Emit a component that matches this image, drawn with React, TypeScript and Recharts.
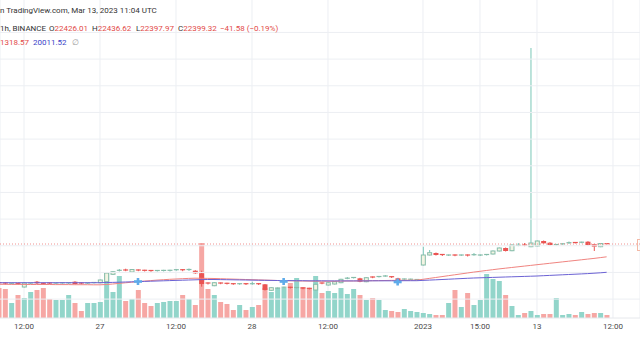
import React from 'react';
import { ComposedChart, Bar, Line, Scatter, XAxis, YAxis, CartesianGrid, ReferenceLine, Cell } from 'recharts';

// BTC 1h candles, first visible bar is index -4 (index 0 = the "12:00" tick)
const OPEN = [
    19134, 19109, 19050, 19084, 18771, 19067, 19218, 19084, 19109, 19050,
    19084, 19084, 19218, 19109, 19067, 19109, 19134, 19218, 19843, 20121,
    20206, 20037, 20206, 20181, 20164, 20121, 20121, 20121, 20181, 20231,
    20164, 20147, 19927, 19109, 18881, 19109, 19084, 19050, 18999, 19050,
    18999, 19050, 18999, 18493, 18645, 18712, 18746, 18687, 18687, 18662,
    18518, 19109, 18940, 19024, 19134, 19472, 19531, 19506, 19218, 19615,
    19615, 19674, 19640, 19506, 19404, 19404, 19362, 20627, 21471, 21640,
    21514, 21429, 21471, 21429, 21471, 21454, 21429, 21471, 21556, 21809,
    22062, 21834, 22256, 22315, 22172, 22231, 22652, 22509, 22315, 22374,
    22467, 22526, 22509, 22593, 22374, 22172, 22426.01,
];
const HIGH = [
    19193, 19151, 19151, 19109, 19151, 19151, 19277, 19125, 19151, 19151,
    19168, 19168, 19260, 19151, 19151, 19193, 19404, 19994, 20121, 20290,
    20315, 20290, 20248, 20223, 20206, 20206, 20223, 20223, 20273, 20273,
    20332, 20189, 20147, 19151, 19176, 19151, 19125, 19092, 19092, 19092,
    19218, 19092, 19024, 18754, 18729, 18797, 18788, 18771, 18729, 18704,
    19041, 19151, 19176, 19260, 19463, 19615, 19615, 19548, 19598, 19657,
    19699, 19784, 19682, 19548, 19489, 19472, 19446, 22172, 21893, 21682,
    21556, 21514, 21514, 21514, 21514, 21640, 21514, 21556, 21851, 22104,
    22104, 22357, 22484, 22484, 38937, 22695, 22695, 22551, 22399, 22458,
    22610, 22568, 22593, 22635, 22416, 22452, 22436.62,
];
const LOW = [
    19024, 18982, 19007, 18940, 18729, 19024, 19024, 18982, 19007, 19024,
    19041, 19024, 18982, 19007, 19024, 19067, 19092, 19176, 19784, 20079,
    20104, 19995, 20104, 20079, 20062, 20079, 20079, 20079, 20138, 20104,
    20121, 19885, 18797, 18982, 18839, 19007, 18982, 18957, 18957, 18940,
    18957, 18940, 18476, 18451, 18602, 18670, 18645, 18645, 18585, 18560,
    18476, 19007, 18898, 18982, 19092, 19429, 19489, 19176, 19176, 19514,
    19573, 19632, 19531, 19235, 19362, 19362, 19320, 20585, 21429, 21429,
    21387, 21387, 21370, 21387, 21345, 21412, 21387, 21429, 21514, 21767,
    21767, 21792, 22214, 22214, 22130, 22189, 22416, 22273, 22273, 22332,
    22399, 22441, 22467, 22273, 21809, 22130, 22397.97,
];
const CLOSE = [
    19067, 19024, 19092, 18999, 19109, 19109, 19084, 19024, 19050, 19109,
    19125, 19125, 19024, 19050, 19109, 19151, 19362, 19952, 20062, 20181,
    20147, 20248, 20147, 20121, 20104, 20164, 20172, 20181, 20231, 20147,
    20248, 19927, 19024, 19024, 19134, 19050, 19024, 18999, 19050, 18982,
    19050, 18982, 18518, 18712, 18687, 18754, 18687, 18729, 18628, 18602,
    18999, 19050, 19134, 19218, 19421, 19514, 19573, 19218, 19556, 19556,
    19657, 19699, 19573, 19303, 19446, 19429, 19404, 21471, 21665, 21471,
    21429, 21471, 21412, 21471, 21387, 21497, 21471, 21514, 21809, 22062,
    21809, 22315, 22290, 22256, 22484, 22652, 22458, 22315, 22357, 22416,
    22509, 22484, 22551, 22315, 22172, 22440.9, 22399.32,
];
const VOLUME = [
    1200, 1160, 600, 920, 800, 1040, 1120, 1200, 760, 720,
    720, 920, 600, 280, 600, 600, 640, 1800, 1040, 1680,
    680, 760, 1120, 600, 480, 600, 640, 680, 680, 920,
    760, 520, 3000, 1160, 920, 640, 560, 320, 520, 320,
    440, 520, 1200, 1040, 1200, 1200, 1400, 1600, 1240, 1200,
    1680, 1000, 1080, 1000, 1200, 960, 1160, 920, 720, 800,
    720, 320, 280, 240, 360, 280, 240, 200, 160, 120,
    120, 600, 1120, 440, 1000, 520, 720, 1760, 1560, 1480,
    920, 480, 120, 200, 280, 120, 160, 160, 800, 120,
    160, 120, 240, 160, 200, 200, 120,
];
const MA_RED = [
    18999, 18999, 18990, 18990, 18990, 18982, 18982, 18982, 18982, 18974,
    18974, 18974, 18965, 18965, 18965, 18957, 18957, 18982, 19024, 19075,
    19125, 19176, 19226, 19269, 19311, 19354, 19387, 19421, 19446, 19472,
    19497, 19514, 19506, 19497, 19489, 19472, 19455, 19438, 19421, 19404,
    19387, 19370, 19354, 19337, 19320, 19303, 19294, 19286, 19277, 19269,
    19260, 19260, 19260, 19260, 19269, 19277, 19277, 19286, 19294, 19303,
    19311, 19320, 19328, 19328, 19337, 19345, 19354, 19421, 19497, 19573,
    19648, 19725, 19800, 19876, 19952, 20029, 20096, 20164, 20231, 20298,
    20357, 20417, 20475, 20535, 20593, 20653, 20712, 20771, 20830, 20889,
    20948, 21007, 21066, 21126, 21184, 21251, 21318.57,
];
const MA_BLUE = [
    19134, 19134, 19134, 19134, 19134, 19134, 19134, 19134, 19134, 19134,
    19134, 19134, 19134, 19134, 19134, 19134, 19134, 19151, 19160, 19176,
    19193, 19209, 19226, 19243, 19260, 19277, 19294, 19311, 19328, 19345,
    19362, 19378, 19395, 19404, 19404, 19395, 19387, 19378, 19370, 19362,
    19354, 19345, 19337, 19328, 19320, 19311, 19311, 19303, 19303, 19294,
    19294, 19294, 19286, 19286, 19286, 19286, 19286, 19286, 19286, 19294,
    19294, 19294, 19294, 19294, 19303, 19303, 19303, 19328, 19354, 19378,
    19404, 19429, 19455, 19480, 19506, 19531, 19548, 19564, 19581, 19598,
    19615, 19632, 19648, 19665, 19682, 19699, 19725, 19750, 19775, 19800,
    19826, 19851, 19876, 19902, 19935, 19969, 20011.52,
];
const FIRST_INDEX = -4;

// light blue "+" markers sitting on the averages
const MARKER_INDEX = [18, 41, 59];
const MARKER_PRICE = [19235, 19235, 19193];

const TIME_TICKS = [0, 12, 24, 36, 48, 63, 72, 81, 93];
const TIME_LABELS = ['12:00', '27', '12:00', '28', '12:00', '2023', '15:00', '13', '12:00'];
const GRID_PRICES = [17750, 20000, 22250, 24500, 26750, 29000, 31250, 33500, 35750, 38000, 40250];

const PX_PER_BAR = 6.333;
const X_DOMAIN: [number, number] = [-24 / PX_PER_BAR, (640 - 24) / PX_PER_BAR];
const PRICE_DOMAIN: [number, number] = [16156, 42987];
const VOL_DOMAIN: [number, number] = [0, 12720];

const UP = '#86bca9';
const UP_FILL = '#f3f4e3';
const DOWN = '#ea5452';
const VOL_UP = '#92d5ca';
const VOL_DOWN = '#f6a7a4';
const GRID = '#eceff3';

const data = OPEN.map((open, k) => ({
    i: k + FIRST_INDEX,
    open,
    high: HIGH[k],
    low: LOW[k],
    close: CLOSE[k],
    volume: VOLUME[k],
    maRed: MA_RED[k],
    maBlue: MA_BLUE[k],
}));

const markers = MARKER_INDEX.map((i, k) => ({ i, price: MARKER_PRICE[k] }));

const Candle = (props: any) => {
    const { x, y, width, height, payload } = props;
    if (!payload || x == null) return null;
    const top = Math.min(y, y + height);
    const bottom = Math.max(y, y + height);
    const { open, close, high, low } = payload;
    const span = high - low || 1;
    const toY = (v: number) => top + ((high - v) / span) * (bottom - top);
    const up = close >= open;
    const yo = toY(open);
    const yc = toY(close);
    const bodyTop = Math.min(yo, yc);
    const bodyH = Math.abs(yo - yc);
    const cx = x + width / 2;
    const color = up ? UP : DOWN;
    return (
        <g>
            <line x1={cx} x2={cx} y1={top} y2={bottom} stroke={up ? '#79c7b8' : DOWN} strokeWidth={1} />
            {up && bodyH >= 2 ? (
                <rect x={x + 0.5} y={bodyTop} width={width - 1} height={bodyH} fill={UP_FILL} stroke={color} strokeWidth={1} />
            ) : (
                <rect x={x} y={bodyTop - (bodyH < 1.2 ? 0.6 : 0)} width={width} height={Math.max(bodyH, 1.2)} fill={color} />
            )}
        </g>
    );
};

const Marker = (props: any) => {
    const { cx, cy } = props;
    if (cx == null) return null;
    return (
        <g fill="#5eabea">
            <rect x={cx - 4} y={cy - 1.3} width={8} height={2.6} />
            <rect x={cx - 1.3} y={cy - 3.5} width={2.6} height={7} />
        </g>
    );
};

const Txt = ({ left, top, color, children }: any) => (
    <div style={{ position: 'absolute', left, top, fontSize: 8, lineHeight: '10px', color, whiteSpace: 'nowrap' }}>
        {children}
    </div>
);

export default function App() {
    const last = data[data.length - 1];
    const prev = data[data.length - 2];
    const change = last.close - prev.close;
    const pct = (change / prev.close) * 100;
    const ohlc = [
        { left: 49, label: 'O', value: last.open },
        { left: 92, label: 'H', value: last.high },
        { left: 136, label: 'L', value: last.low },
        { left: 178, label: 'C', value: last.close },
    ];
    const red = '#e24a47';
    // the screenshot is cropped on the left, so the first glyphs of these lines are cut off
    const fastMa = last.maRed.toFixed(2).slice(1);
    return (
        <div style={{ position: 'absolute', left: 0, top: 0, width: 640, height: 360, background: '#fff', overflow: 'hidden', fontFamily: 'Roboto, sans-serif' }}>
            <ComposedChart width={640} height={360} data={data} margin={{ top: 0, right: 0, bottom: 0, left: 0 }}>
                <CartesianGrid xAxisId="main" yAxisId="price" stroke={GRID} horizontal={false} />
                {GRID_PRICES.map(p => (
                    <ReferenceLine key={p} xAxisId="main" yAxisId="price" y={p} stroke={GRID} />
                ))}
                <XAxis
                    xAxisId="main"
                    dataKey="i"
                    type="number"
                    domain={X_DOMAIN}
                    allowDataOverflow
                    ticks={TIME_TICKS}
                    interval={0}
                    tickFormatter={(v: number) => TIME_LABELS[TIME_TICKS.indexOf(v)] ?? ''}
                    height={42}
                    tickSize={0}
                    tickMargin={5}
                    axisLine={{ stroke: '#e6e8ec' }}
                    tick={{ fontSize: 8, fill: '#4a4a4a', fontFamily: 'Roboto' }}
                />
                <XAxis xAxisId="vol" dataKey="i" type="number" domain={X_DOMAIN} allowDataOverflow hide />
                <YAxis
                    yAxisId="price"
                    type="number"
                    domain={PRICE_DOMAIN}
                    allowDataOverflow
                    orientation="right"
                    width={0}
                    tick={false}
                    axisLine={false}
                    tickLine={false}
                />
                <YAxis yAxisId="vol" type="number" domain={VOL_DOMAIN} hide />
                <Bar xAxisId="vol" yAxisId="vol" dataKey="volume" barSize={5} isAnimationActive={false}>
                    {data.map(d => (
                        <Cell key={d.i} fill={d.close >= d.open ? VOL_UP : VOL_DOWN} />
                    ))}
                </Bar>
                <ReferenceLine xAxisId="main" yAxisId="price" y={last.close} stroke="#f09290" strokeDasharray="1 2" />
                <Line xAxisId="main" yAxisId="price" dataKey="maRed" stroke="#f08480" strokeWidth={1} dot={false} activeDot={false} isAnimationActive={false} />
                <Line xAxisId="main" yAxisId="price" dataKey="maBlue" stroke="#6b62d4" strokeWidth={1} dot={false} activeDot={false} isAnimationActive={false} />
                <Bar
                    xAxisId="main"
                    yAxisId="price"
                    dataKey={(d: any) => [d.low, d.high]}
                    barSize={5}
                    shape={<Candle />}
                    activeBar={false}
                    isAnimationActive={false}
                />
                <Scatter xAxisId="main" yAxisId="price" data={markers} dataKey="price" shape={<Marker />} isAnimationActive={false} />
            </ComposedChart>

            <Txt left={0} top={6} color="#333">n TradingView.com, Mar 13, 2023 11:04 UTC</Txt>
            <Txt left={0} top={24} color="#333">1h, BINANCE</Txt>
            {ohlc.map(o => (
                <Txt key={o.label} left={o.left} top={24} color="#333">
                    {o.label}
                    <span style={{ color: red }}>{o.value.toFixed(2)}</span>
                </Txt>
            ))}
            <Txt left={220} top={24} color={red}>
                {`\u2212${Math.abs(change).toFixed(2)} (\u2212${Math.abs(pct).toFixed(2)}%)`}
            </Txt>
            <Txt left={0} top={38} color={red}>{fastMa}</Txt>
            <Txt left={33} top={38} color="#3a42c8">{last.maBlue.toFixed(2)}</Txt>
            <Txt left={72} top={38} color="#999">∅</Txt>
            <div style={{ position: 'absolute', left: 637, top: 239, width: 8, height: 10, border: '1px solid #f3b9a6', borderRight: 'none' }} />
        </div>
    );
}
